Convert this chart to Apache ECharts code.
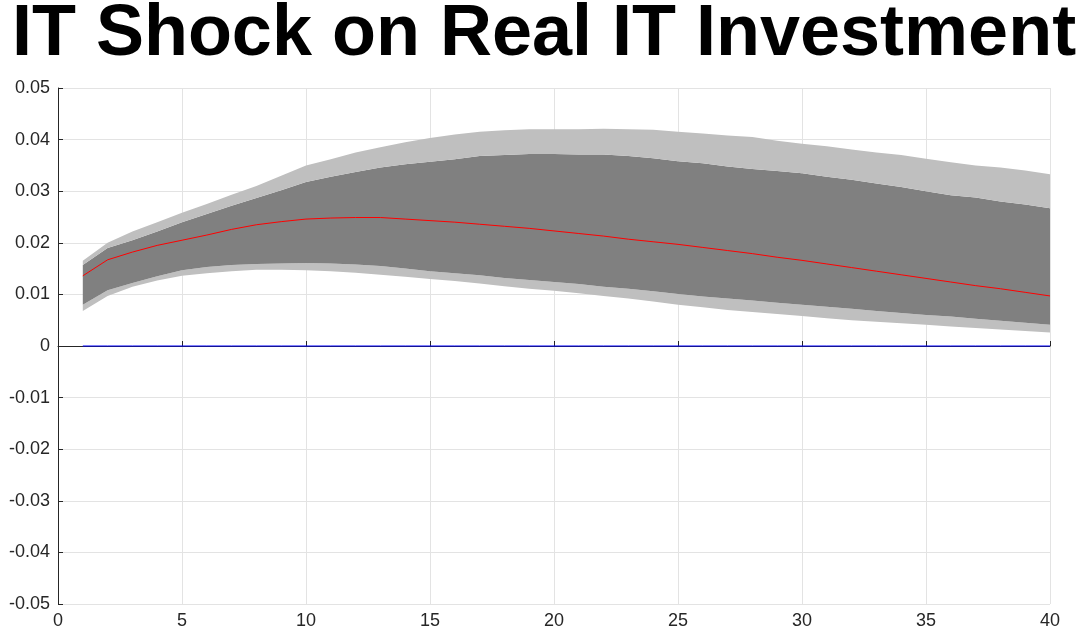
<!DOCTYPE html>
<html><head><meta charset="utf-8">
<script src="https://cdn.jsdelivr.net/npm/echarts@6/dist/echarts.min.js"></script>
<style>html,body{margin:0;padding:0;background:#fff}#c{width:1088px;height:634px}</style>
</head><body><div id="c"></div>
<script>
const ticks = Array.from({length:41},(_,i)=>String(i));
const median = [.0136,.0167,.0182,.0195,.0205,.0215,.0226,.0235,.0241,.0246,.0248,.0249,.0249,.0246,.0243,.0240,.0236,.0232,.0228,.0223,.0218,.0213,.0207,.0202,.0197,.0191,.0185,.0179,.0172,.0166,.0159,.0152,.0145,.0138,.0131,.0124,.0117,.0111,.0104,.0097];
const outerUpper = [.0165,.0200,.0222,.0240,.0258,.0275,.0293,.0310,.0330,.0350,.0362,.0375,.0385,.0395,.0403,.0410,.0415,.0418,.0420,.0420,.0420,.0421,.0420,.0419,.0415,.0412,.0408,.0405,.0398,.0392,.0387,.0381,.0375,.0370,.0363,.0356,.0350,.0346,.0340,.0333];
const innerUpper = [.0157,.0190,.0205,.0222,.0240,.0256,.0272,.0287,.0302,.0318,.0328,.0337,.0346,.0352,.0357,.0362,.0368,.0370,.0372,.0372,.0371,.0371,.0368,.0364,.0358,.0354,.0348,.0343,.0339,.0335,.0328,.0322,.0315,.0308,.0300,.0292,.0288,.0280,.0274,.0267];
const innerLower = [.0080,.0108,.0122,.0135,.0147,.0153,.0157,.0159,.0160,.0161,.0160,.0158,.0155,.0150,.0145,.0141,.0137,.0132,.0128,.0124,.0120,.0115,.0111,.0106,.0101,.0096,.0092,.0088,.0084,.0080,.0076,.0072,.0068,.0064,.0060,.0057,.0053,.0049,.0045,.0041];
const outerLower = [.0068,.0097,.0115,.0127,.0136,.0141,.0145,.0148,.0148,.0147,.0145,.0142,.0138,.0134,.0130,.0126,.0121,.0116,.0111,.0107,.0102,.0097,.0092,.0086,.0080,.0075,.0070,.0066,.0062,.0058,.0054,.0050,.0047,.0044,.0041,.0038,.0035,.0032,.0029,.0026];
const zeroLine = median.map(()=>0);

const pad = a => ['-'].concat(a);
const diff = (a,b) => pad(a.map((v,i)=>+(v-b[i]).toFixed(5)));
const band = (name,data,color) => ({name,type:'line',stack:'b',data,symbol:'none',lineStyle:{width:0,opacity:0},areaStyle:color?{color,opacity:1}:{opacity:0},z:1,silent:true});

const chart = echarts.init(document.getElementById('c'));
chart.setOption({
  animation:false,
  title:{text:'IT Shock on Real IT Investment',left:'center',top:-6,textStyle:{fontFamily:'Liberation Sans',fontWeight:'bold',fontSize:72,color:'#000'}},
  grid:{left:58,right:38,top:88,bottom:30},
  xAxis:{type:'category',data:ticks,boundaryGap:false,
    axisLine:{lineStyle:{color:'#262626'}},axisTick:{inside:true,interval:4,lineStyle:{color:'#262626'}},
    axisLabel:{interval:4,color:'#262626',fontSize:18,fontFamily:'Liberation Sans'},
    splitLine:{show:true,interval:4,lineStyle:{color:'#e3e3e3'}}},
  yAxis:{type:'value',min:-0.05,max:0.05,interval:0.01,
    axisLine:{show:true,lineStyle:{color:'#262626'}},axisTick:{show:true,inside:true,lineStyle:{color:'#262626'}},
    axisLabel:{color:'#262626',fontSize:18,fontFamily:'Liberation Sans',formatter:v=>{const r=Math.round(v*100)/100;return r===0?'0':String(r);}},
    splitLine:{show:true,lineStyle:{color:'#e3e3e3'}}},
  series:[
    band('base',pad(outerLower),null),
    band('lowOuter',diff(innerLower,outerLower),'#bfbfbf'),
    band('inner',diff(innerUpper,innerLower),'#808080'),
    band('upOuter',diff(outerUpper,innerUpper),'#bfbfbf'),
    {name:'zero',type:'line',data:pad(zeroLine),symbol:'none',lineStyle:{color:'#0000ff',width:1},z:3},
    {name:'median',type:'line',data:pad(median),symbol:'none',lineStyle:{color:'#ff0000',width:1},z:4}
  ]
});
</script></body></html>
